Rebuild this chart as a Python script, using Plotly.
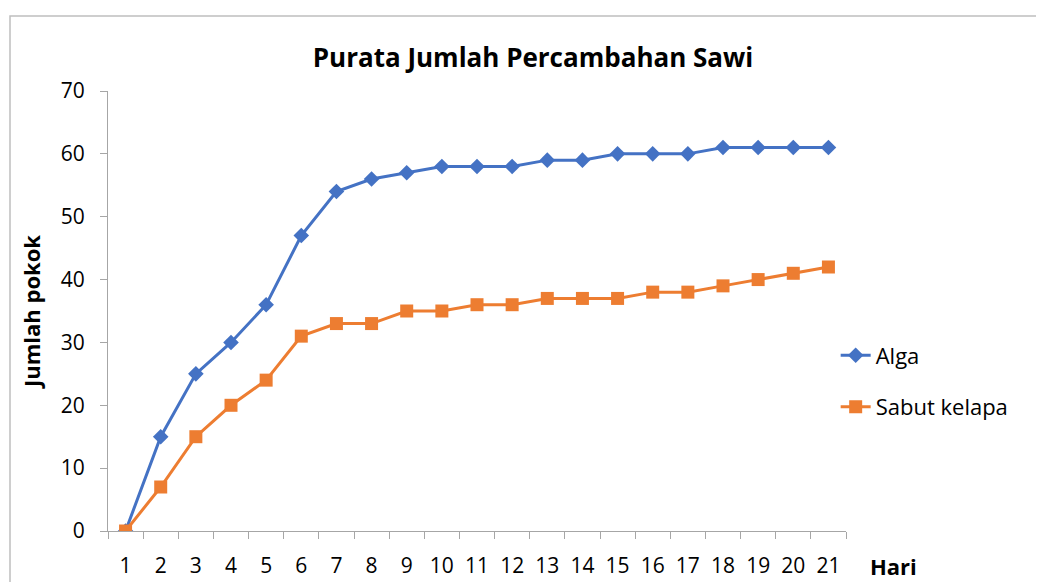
import plotly.graph_objects as go

hari = [str(i) for i in range(1, 22)]
alga = [0, 15, 25, 30, 36, 47, 54, 56, 57, 58, 58, 58, 59, 59, 60, 60, 60, 61, 61, 61, 61]
sabut = [0, 7, 15, 20, 24, 31, 33, 33, 35, 35, 36, 36, 37, 37, 37, 38, 38, 39, 40, 41, 42]

FONT = "Open Sans, Noto Sans, sans-serif"

fig = go.Figure()
fig.add_trace(go.Scatter(x=hari, y=alga, name="Alga", mode="lines+markers",
                         line=dict(color="#4472C4", width=3),
                         marker=dict(symbol="diamond", size=12, color="#4472C4"),
                         legendgroup="a"))
fig.add_trace(go.Scatter(x=hari, y=sabut, name="Sabut kelapa", mode="lines+markers",
                         line=dict(color="#ED7D31", width=3),
                         marker=dict(symbol="square", size=13, color="#ED7D31"),
                         legendgroup="b"))

fig.update_layout(
    width=1044, height=582,
    margin=dict(l=100, r=206, t=83, b=59, autoexpand=False),
    paper_bgcolor="white", plot_bgcolor="white",
    font=dict(family=FONT, size=21, color="#000000"),
    title=dict(text="<b>Purata Jumlah Percambahan Sawi</b>", x=525/1044, xanchor="center",
               y=1 - 50/582, yanchor="middle", font=dict(size=26, family=FONT)),
    legend=dict(x=0.986, xanchor="left", y=0.34, yanchor="middle",
                font=dict(size=22, family=FONT), tracegroupgap=20,
                bgcolor="rgba(0,0,0,0)"),
    xaxis=dict(type="category", range=[-0.5, len(hari) - 0.5],
               tickson="boundaries", ticks="outside", ticklen=7,
               tickcolor="#a6a6a6", showline=True, linecolor="#a6a6a6", linewidth=1,
               showgrid=False, tickfont=dict(size=21), tickangle=0, automargin=False,
               ticklabelstandoff=16),
    yaxis=dict(range=[0, 70], dtick=10, ticks="outside", ticklen=7, tickcolor="#a6a6a6",
               showline=True, linecolor="#a6a6a6", linewidth=1, showgrid=False,
               zeroline=False, tickfont=dict(size=21), automargin=False,
               ticklabelstandoff=11,
               title=dict(text="<b>Jumlah pokok</b>", font=dict(size=22), standoff=14)),
)

fig.add_annotation(text="<b>Hari</b>", xref="paper", yref="paper",
                   x=(893 - 107) / 738, y=(531 - 566) / 440,
                   xanchor="center", yanchor="middle", showarrow=False,
                   font=dict(size=22, family=FONT))

fig.add_shape(type="rect", xref="paper", yref="paper",
              x0=(9 - 107) / 738, x1=(1040 - 107) / 738,
              y0=-0.3, y1=(531 - 16) / 440,
              line=dict(color="#bfbfbf", width=1.5), layer="below")

fig.write_html("out.html")
